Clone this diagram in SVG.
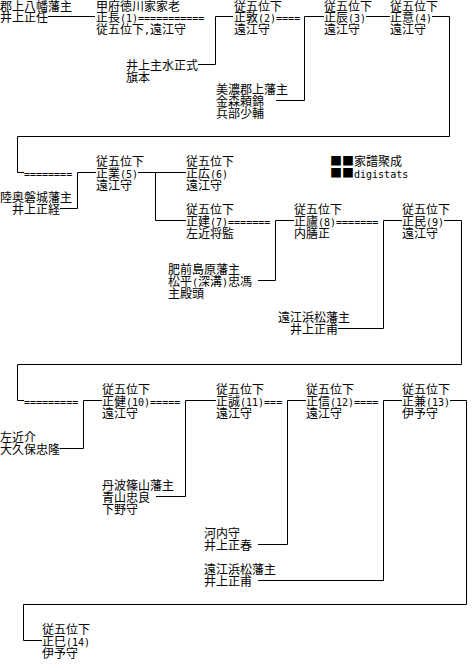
<svg xmlns="http://www.w3.org/2000/svg" width="474" height="672" viewBox="0 0 474 672">
<style>
text { font-family: "Noto Sans CJK JP", "Noto Sans CJK SC", sans-serif; font-size: 12px; fill: #000; }
.a { font-family: "DejaVu Sans Mono", "Liberation Mono", monospace; font-size: 10px; }
.c { stroke: #000; stroke-width: 1; fill: none; }
</style>
<rect width="474" height="672" fill="#fff"/>
<g id="connectors" class="c">
<path d="M48 16.5H95"/>
<path d="M198 64.5H215.5V16.5H233"/>
<path d="M276 100.5H304.5V16.5H324"/>
<path d="M366 16.5H390"/>
<path d="M432 16.5H449.5V136.5H17.5V172.5H24"/>
<path d="M60 208.5H77.5V172.5H96"/>
<path d="M138 172.5H186"/>
<path d="M155.5 172.5V220.5H186"/>
<path d="M258 280.5H275.5V220.5H294"/>
<path d="M338 328.5H383.5V220.5H402"/>
<path d="M444 220.5H461.5V364.5H17.5V400.5H24"/>
<path d="M60 448.5H83.5V400.5H102"/>
<path d="M156 496.5H185.5V400.5H216"/>
<path d="M258 544.5H287.5V400.5H306"/>
<path d="M258 580.5H383.5V400.5H402"/>
<path d="M450 400.5H466.5V604.5H23.5V640.5H42"/>
</g>
<g id="n-masatou">
<text x="0" y="11">郡上八幡藩主</text>
<text x="0" y="22">井上正任</text>
</g>
<g id="n1">
<text x="96" y="11">甲府徳川家家老</text>
<text x="96" y="22">正長<tspan class="a">(1)===========</tspan></text>
<text x="96" y="34">従五位下<tspan class="a">,</tspan>遠江守</text>
</g>
<g id="n-mondo">
<text x="126" y="70">井上主水正式</text>
<text x="126" y="82">旗本</text>
</g>
<g id="n2">
<text x="234" y="11">従五位下</text>
<text x="234" y="22">正敦<tspan class="a">(2)====</tspan></text>
<text x="234" y="34">遠江守</text>
</g>
<g id="n-kanamori">
<text x="216" y="94">美濃郡上藩主</text>
<text x="216" y="106">金森頼錦</text>
<text x="216" y="118">兵部少輔</text>
</g>
<g id="n3">
<text x="324" y="11">従五位下</text>
<text x="324" y="22">正辰<tspan class="a">(3)</tspan></text>
<text x="324" y="34">遠江守</text>
</g>
<g id="n4">
<text x="390" y="11">従五位下</text>
<text x="390" y="22">正意<tspan class="a">(4)</tspan></text>
<text x="390" y="34">遠江守</text>
</g>
<g id="adopt-5"><text class="a" x="24" y="178">========</text></g>
<g id="n5">
<text x="96" y="166">従五位下</text>
<text x="96" y="178">正業<tspan class="a">(5)</tspan></text>
<text x="96" y="190">遠江守</text>
</g>
<g id="n-masatsune">
<text x="0" y="202">陸奥磐城藩主</text>
<text x="12" y="214">井上正経</text>
</g>
<g id="n6">
<text x="186" y="166">従五位下</text>
<text x="186" y="178">正広<tspan class="a">(6)</tspan></text>
<text x="186" y="190">遠江守</text>
</g>
<g id="n7">
<text x="186" y="214">従五位下</text>
<text x="186" y="226">正建<tspan class="a">(7)=======</tspan></text>
<text x="186" y="238">左近将監</text>
</g>
<g id="n-matsudaira">
<text x="168" y="274">肥前島原藩主</text>
<text x="168" y="286">松平<tspan class="a">(</tspan>深溝<tspan class="a">)</tspan>忠馮</text>
<text x="168" y="298">主殿頭</text>
</g>
<g id="n8">
<text x="294" y="214">従五位下</text>
<text x="294" y="226">正廬<tspan class="a">(8)=======</tspan></text>
<text x="294" y="238">内膳正</text>
</g>
<g id="n-masamoto-a">
<text x="278" y="322">遠江浜松藩主</text>
<text x="290" y="334">井上正甫</text>
</g>
<g id="n9">
<text x="402" y="214">従五位下</text>
<text x="402" y="226">正民<tspan class="a">(9)</tspan></text>
<text x="402" y="238">遠江守</text>
</g>
<g id="logo">
<text x="330" y="166">■■家譜聚成</text>
<text x="330" y="178">■■<tspan class="a">digistats</tspan></text>
</g>
<g id="adopt-10"><text class="a" x="24" y="406">=========</text></g>
<g id="n10">
<text x="102" y="394">従五位下</text>
<text x="102" y="406">正健<tspan class="a">(10)=====</tspan></text>
<text x="102" y="418">遠江守</text>
</g>
<g id="n-okubo">
<text x="0" y="442">左近介</text>
<text x="0" y="454">大久保忠隆</text>
</g>
<g id="n-aoyama">
<text x="102" y="490">丹波篠山藩主</text>
<text x="102" y="502">青山忠良</text>
<text x="102" y="514">下野守</text>
</g>
<g id="n11">
<text x="216" y="394">従五位下</text>
<text x="216" y="406">正誠<tspan class="a">(11)===</tspan></text>
<text x="216" y="418">遠江守</text>
</g>
<g id="n-masaharu">
<text x="204" y="538">河内守</text>
<text x="204" y="550">井上正春</text>
</g>
<g id="n12">
<text x="306" y="394">従五位下</text>
<text x="306" y="406">正信<tspan class="a">(12)====</tspan></text>
<text x="306" y="418">遠江守</text>
</g>
<g id="n-masamoto-b">
<text x="204" y="574">遠江浜松藩主</text>
<text x="204" y="586">井上正甫</text>
</g>
<g id="n13">
<text x="402" y="394">従五位下</text>
<text x="402" y="406">正兼<tspan class="a">(13)</tspan></text>
<text x="402" y="418">伊予守</text>
</g>
<g id="n14">
<text x="42" y="634">従五位下</text>
<text x="42" y="646">正巳<tspan class="a">(14)</tspan></text>
<text x="42" y="658">伊予守</text>
</g>
</svg>
